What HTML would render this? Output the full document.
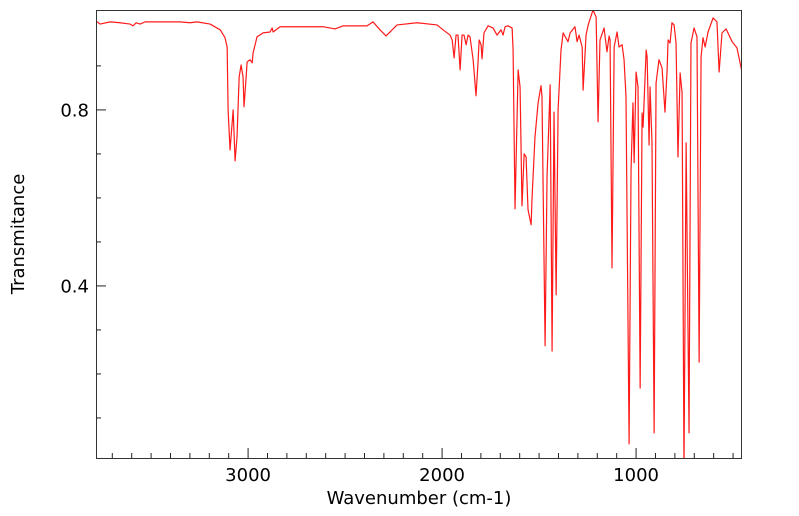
<!DOCTYPE html>
<html><head><meta charset="utf-8"><style>
html,body{margin:0;padding:0;background:#fff;}
svg{display:block;font-family:"DejaVu Sans","Liberation Sans",sans-serif;}
</style></head><body>
<svg id="chart" width="799" height="516" viewBox="0 0 799 516"></svg>
<script>
const wavenumbers=[3784,3763,3711,3660,3608,3593,3577,3557,3531,3454,3351,3299,3263,3196,3144,3119,3108,3103,3093,3077,3067,3057,3046,3036,3026,3021,3010,3005,2990,2979,2974,2954,2923,2887,2876,2871,2835,2614,2552,2510,2387,2356,2320,2289,2232,2129,2026,1995,1959,1948,1938,1928,1918,1907,1897,1887,1876,1866,1856,1840,1825,1814,1809,1799,1794,1784,1763,1737,1717,1696,1686,1675,1660,1639,1634,1624,1608,1598,1588,1577,1567,1557,1541,1536,1521,1505,1490,1485,1469,1459,1443,1433,1423,1412,1402,1387,1376,1351,1340,1315,1304,1294,1278,1273,1258,1247,1222,1206,1196,1186,1165,1150,1139,1134,1124,1113,1098,1088,1072,1062,1052,1036,1026,1016,1010,1000,990,979,969,964,948,943,933,928,918,907,897,882,866,851,840,835,825,815,804,794,784,773,763,753,742,727,717,701,686,675,665,655,644,629,603,583,572,557,536,505,480,454];
const transmittance=[1.002,0.995,1.000,0.998,0.995,0.991,0.998,0.995,1.000,1.000,1.000,0.998,1.000,0.995,0.982,0.964,0.943,0.800,0.709,0.800,0.684,0.739,0.875,0.902,0.875,0.807,0.875,0.909,0.914,0.907,0.930,0.966,0.975,0.977,0.986,0.977,0.989,0.989,0.984,0.991,0.991,1.000,0.982,0.968,0.993,0.998,0.993,0.982,0.970,0.959,0.918,0.970,0.970,0.891,0.970,0.970,0.948,0.970,0.966,0.914,0.832,0.914,0.959,0.948,0.916,0.975,0.991,0.986,0.970,0.982,0.970,0.989,0.991,0.986,0.936,0.575,0.891,0.852,0.582,0.700,0.693,0.573,0.539,0.602,0.739,0.816,0.855,0.830,0.264,0.648,0.857,0.252,0.795,0.380,0.800,0.936,0.975,0.955,0.975,0.989,0.955,0.970,0.943,0.845,0.970,0.993,1.027,1.011,0.773,0.959,0.986,0.932,0.968,0.959,0.441,0.943,0.977,0.943,0.948,0.914,0.830,0.041,0.664,0.816,0.680,0.886,0.852,0.168,0.793,0.761,0.936,0.920,0.720,0.852,0.725,0.066,0.861,0.914,0.895,0.795,0.891,0.959,0.952,0.998,0.993,0.952,0.693,0.884,0.839,-0.018,0.725,0.066,0.952,0.986,0.966,0.227,0.920,0.964,0.943,0.977,1.009,1.000,0.886,0.975,0.984,0.955,0.941,0.886];
const xMajorTicks=[3000,2000,1000];
const xTickLabels=["3000","2000","1000"];
const yMajorTicks=[0.4,0.8];
const yTickLabels=["0.4","0.8"];
const xDomain=[3784,454];
const yDomain=[0.009,1.027];

const L=96,T=10,W=646,H=448;
const NS="http://www.w3.org/2000/svg";
const svg=document.getElementById('chart');
function xs(v){return L+(xDomain[0]-v)/(xDomain[0]-xDomain[1])*W;}
function ys(v){return T+H-(v-yDomain[0])/(yDomain[1]-yDomain[0])*H;}
function mk(tag,attrs){const e=document.createElementNS(NS,tag);for(const k in attrs)e.setAttribute(k,attrs[k]);svg.appendChild(e);return e;}

const defs=document.createElementNS(NS,'defs');
defs.innerHTML='<clipPath id="pc"><rect x="'+L+'" y="'+T+'" width="'+W+'" height="'+H+'"/></clipPath>';
svg.appendChild(defs);

let d='';
for(let i=0;i<wavenumbers.length;i++){d+=(i?'L':'M')+xs(wavenumbers[i]).toFixed(2)+','+ys(transmittance[i]).toFixed(2);}
const line=mk('path',{d:d,fill:'none',stroke:'#ff1a1a','stroke-width':1.2,'stroke-linejoin':'round','clip-path':'url(#pc)'});



const frame=mk('rect',{x:L+0.5,y:T+0.5,width:W-1,height:H,fill:'none',stroke:'#333','stroke-width':1});



for(let v=3700;v>=500;v-=100){
  const major=xMajorTicks.indexOf(v)>=0;
  const t=mk('line',{x1:xs(v),x2:xs(v),y1:T+H,y2:T+H-(major?10:5),stroke:'#222','stroke-width':1});
  
  
}
xMajorTicks.forEach((v,i)=>{
  const tx=mk('text',{x:xs(v),y:481,'text-anchor':'middle','font-size':18,fill:'#000'});
  tx.textContent=xTickLabels[i];
  
  
});
for(let k=1;k<=9;k++){
  const v=k/10;
  const major=yMajorTicks.some(m=>Math.abs(m-v)<1e-9);
  const t=mk('line',{x1:L,x2:L+(major?10:5),y1:ys(v),y2:ys(v),stroke:'#222','stroke-width':1});
  
  
}
yMajorTicks.forEach((v,i)=>{
  const tx=mk('text',{x:89,y:ys(v)+6.5,'text-anchor':'end','font-size':18,fill:'#000'});
  tx.textContent=yTickLabels[i];
  
  
});
const xt=mk('text',{x:419,y:504,'text-anchor':'middle','font-size':18,fill:'#000'});
xt.textContent='Wavenumber (cm-1)';


const yt=mk('text',{x:0,y:0,'text-anchor':'middle','font-size':18,fill:'#000',transform:'translate(24,234) rotate(-90)'});
yt.textContent='Transmitance';


</script>
</body></html>
